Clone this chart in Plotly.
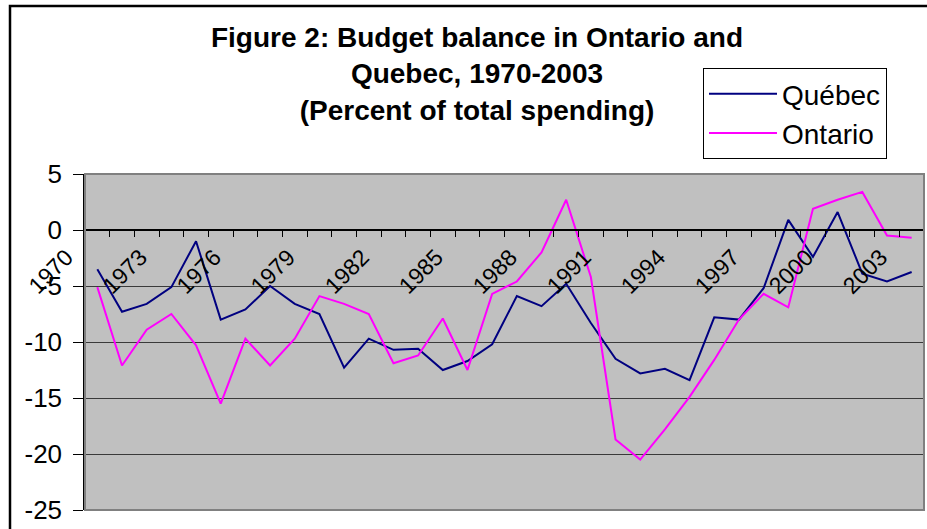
import plotly.graph_objects as go

years = list(range(1970, 2004))
quebec = [-3.5, -7.3, -6.6, -5.1, -1.0, -8.0, -7.1, -5.0, -6.6, -7.5,
          -12.3, -9.7, -10.7, -10.6, -12.5, -11.7, -10.2, -5.9, -6.8, -4.8,
          -8.3, -11.5, -12.8, -12.4, -13.4, -7.8, -8.0, -5.2, 0.9, -2.4,
          1.6, -3.9, -4.6, -3.75]
ontario = [-5.1, -12.1, -8.9, -7.5, -10.3, -15.5, -9.7, -12.1, -9.7, -5.9,
           -6.6, -7.5, -11.9, -11.2, -7.9, -12.5, -5.7, -4.6, -2.0, 2.7,
           -4.2, -18.7, -20.5, -17.8, -14.9, -11.6, -8.0, -5.7, -6.9, 1.9,
           2.7, 3.4, -0.5, -0.7]
label_years = list(range(1970, 2004, 3))
y_ticks = [5, 0, -5, -10, -15, -20, -25]
y_tick_text = ["5", "0", "-5", "-10", "-15", "-20", "-25"]

FONT = "Liberation Sans, Arial, sans-serif"

fig = go.Figure()
fig.add_trace(go.Scatter(x=years, y=quebec, mode="lines", name="Québec",
                         line=dict(color="#000080", width=2)))
fig.add_trace(go.Scatter(x=years, y=ontario, mode="lines", name="Ontario",
                         line=dict(color="#FF00FF", width=2)))

y_zero_pos = (0 - (-25)) / (5 - (-25))

fig.update_layout(
    width=927, height=529, autosize=False,
    margin=dict(l=85, r=3, t=174, b=19),
    paper_bgcolor="white", plot_bgcolor="#C0C0C0",
    font=dict(family=FONT, color="black"),
    title=dict(
        text="<b>Figure 2: Budget balance in Ontario and<br>Quebec, 1970-2003<br>(Percent of total spending)</b>",
        x=477 / 927, xanchor="center", xref="container",
        y=1 - 47 / 529, yanchor="top", yref="container",
        font=dict(size=28, family=FONT, color="black"),
    ),
    legend=dict(
        x=(703 - 85) / 839, xanchor="left",
        y=(510 - 68) / 336, yanchor="top",
        bgcolor="white", bordercolor="black", borderwidth=1,
        font=dict(size=28, family=FONT, color="black"),
        tracegroupgap=0, itemwidth=68,
    ),
    xaxis=dict(
        range=[1969.5, 2003.5], anchor="free", position=y_zero_pos,
        tickmode="array", tickvals=label_years,
        ticktext=[str(v) for v in label_years],
        tickangle=-45, ticks="", showgrid=False, zeroline=False,
        showline=True, linecolor="black", linewidth=1.5,
        tickfont=dict(size=23, family=FONT, color="black"),
        ticklabelshift=-31, ticklabelstandoff=4,
    ),
    xaxis2=dict(
        range=[1969.5, 2003.5], overlaying="x", anchor="free",
        position=y_zero_pos, side="bottom",
        tick0=1969.5, dtick=1, ticks="outside", ticklen=6, tickwidth=1,
        tickcolor="black", showticklabels=False, showgrid=False,
        zeroline=False, showline=False,
    ),
    yaxis=dict(
        range=[-25, 5], tickmode="array", tickvals=y_ticks,
        ticktext=y_tick_text,
        ticks="outside", ticklen=10, tickcolor="black", tickwidth=1,
        showline=True, linecolor="black", linewidth=1.5,
        showgrid=True, gridcolor="#3a3a3a", gridwidth=1,
        zeroline=False, ticklabelstandoff=6,
        tickfont=dict(size=26, family=FONT, color="black"),
    ),
)

# dummy trace to activate xaxis2 tick marks
fig.add_trace(go.Scatter(x=[1969.5], y=[None], xaxis="x2", showlegend=False,
                         hoverinfo="skip", mode="lines"))

# plot-area border (grey) and outer chart border (black)
fig.add_shape(type="rect", xref="paper", yref="paper", x0=0, x1=1, y0=0, y1=1,
              line=dict(color="#808080", width=2), layer="above")
fig.add_shape(type="rect", xref="paper", yref="paper",
              x0=(10 - 85) / 839, x1=1.2, y0=-0.3, y1=(510 - 6) / 336,
              line=dict(color="black", width=2.5), layer="above")

fig.write_html(
    "out.html",
    config={"displayModeBar": False},
    post_script=(
        "document.body.style.margin='0';"
        "document.body.style.overflow='hidden';"
        "document.documentElement.style.overflow='hidden';"
    ),
)
